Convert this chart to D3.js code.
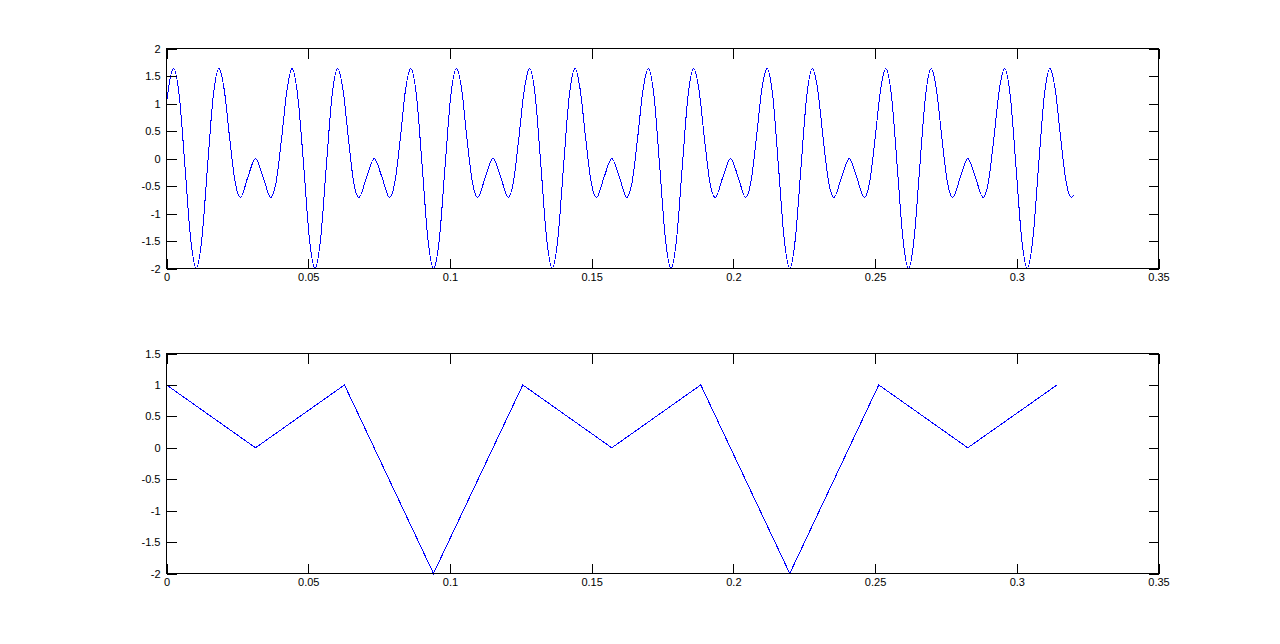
<!DOCTYPE html>
<html>
<head>
<meta charset="utf-8">
<script src="https://cdn.jsdelivr.net/npm/d3@7"></script>
<style>
  html, body { margin: 0; padding: 0; background: #ffffff; }
  svg { display: block; }
  text { font-family: "Liberation Sans", Arial, Helvetica, sans-serif; font-size: 11px; fill: #000; }
</style>
</head>
<body>
<svg id="chart" width="1280" height="644"></svg>
<script>
// ---- Top panel: continuous signal ----
const topTime = [
  0, 0.0006, 0.0025, 0.0045, 0.0065, 0.0085, 0.0105, 0.0125, 0.0145, 0.0165, 0.0185, 0.0204, 0.0223, 0.0242, 0.0261, 0.0287, 0.0314, 0.0341, 0.0368, 0.0387, 0.0406,
  0.0425, 0.0443, 0.0463, 0.0484, 0.0504, 0.0524, 0.0544, 0.0564, 0.0584, 0.0604, 0.0623, 0.0642, 0.0660, 0.0679, 0.0706, 0.0733, 0.0760, 0.0787, 0.0806, 0.0825,
  0.0843, 0.0862, 0.0882, 0.0902, 0.0922, 0.0942, 0.0963, 0.0983, 0.1003, 0.1023, 0.1042, 0.1060, 0.1079, 0.1098, 0.1125, 0.1152, 0.1179, 0.1206, 0.1224, 0.1243,
  0.1262, 0.1281, 0.1301, 0.1321, 0.1341, 0.1361, 0.1381, 0.1401, 0.1421, 0.1442, 0.1460, 0.1479, 0.1498, 0.1517, 0.1544, 0.1571, 0.1598, 0.1624, 0.1643, 0.1662,
  0.1681, 0.1700, 0.1720, 0.1740, 0.1760, 0.1780, 0.1800, 0.1820, 0.1840, 0.1860, 0.1879, 0.1898, 0.1917, 0.1936, 0.1963, 0.1990, 0.2017, 0.2043, 0.2062, 0.2081,
  0.2100, 0.2119, 0.2139, 0.2159, 0.2179, 0.2199, 0.2219, 0.2239, 0.2259, 0.2279, 0.2298, 0.2317, 0.2336, 0.2355, 0.2382, 0.2409, 0.2435, 0.2462, 0.2481, 0.2500,
  0.2519, 0.2538, 0.2558, 0.2578, 0.2598, 0.2618, 0.2638, 0.2658, 0.2678, 0.2698, 0.2717, 0.2736, 0.2755, 0.2774, 0.2801, 0.2827, 0.2854, 0.2881, 0.2900, 0.2919,
  0.2938, 0.2957, 0.2977, 0.2997, 0.3017, 0.3037, 0.3057, 0.3077, 0.3097, 0.3117, 0.3136, 0.3155, 0.3174, 0.3193, 0.3200
];
const topValue = [
  1.000, 1.238, 1.634, 1.136, -0.131, -1.445, -2.000, -1.445, -0.131, 1.136, 1.634, 1.238, 0.361, -0.423, -0.708, -0.338, 0.000, -0.338, -0.708, -0.423, 0.361,
  1.238, 1.634, 1.136, -0.131, -1.445, -2.000, -1.445, -0.131, 1.136, 1.634, 1.238, 0.361, -0.423, -0.708, -0.338, 0.000, -0.338, -0.708, -0.423, 0.361,
  1.238, 1.634, 1.136, -0.131, -1.445, -2.000, -1.445, -0.131, 1.136, 1.634, 1.238, 0.361, -0.423, -0.708, -0.338, 0.000, -0.338, -0.708, -0.423, 0.361,
  1.238, 1.634, 1.136, -0.131, -1.445, -2.000, -1.445, -0.131, 1.136, 1.634, 1.238, 0.361, -0.423, -0.708, -0.338, 0.000, -0.338, -0.708, -0.423, 0.361,
  1.238, 1.634, 1.136, -0.131, -1.445, -2.000, -1.445, -0.131, 1.136, 1.634, 1.238, 0.361, -0.423, -0.708, -0.338, 0.000, -0.338, -0.708, -0.423, 0.361,
  1.238, 1.634, 1.136, -0.131, -1.445, -2.000, -1.445, -0.131, 1.136, 1.634, 1.238, 0.361, -0.423, -0.708, -0.338, 0.000, -0.338, -0.708, -0.423, 0.361,
  1.238, 1.634, 1.136, -0.131, -1.445, -2.000, -1.445, -0.131, 1.136, 1.634, 1.238, 0.361, -0.423, -0.708, -0.338, 0.000, -0.338, -0.708, -0.423, 0.361,
  1.238, 1.634, 1.136, -0.131, -1.445, -2.000, -1.445, -0.131, 1.136, 1.634, 1.238, 0.361, -0.423, -0.708, -0.671
];

// ---- Bottom panel: sampled signal ----
const bottomTime  = [0, 0.0314, 0.0628, 0.0942, 0.1257, 0.1571, 0.1885, 0.2199, 0.2513, 0.2827, 0.3142];
const bottomValue = [1, 0, 1, -2, 1, 0, 1, -2, 1, 0, 1];

// ---- Tick values ----
const xTicks = [0, 0.05, 0.1, 0.15, 0.2, 0.25, 0.3, 0.35];
const topYTicks = [-2, -1.5, -1, -0.5, 0, 0.5, 1, 1.5, 2];
const bottomYTicks = [-2, -1.5, -1, -0.5, 0, 0.5, 1, 1.5];

const svg = d3.select("#chart");

function panel(cfg) {
  const x = d3.scaleLinear().domain([0, 0.35]).range([cfg.left + 0.5, cfg.right + 0.5]);
  const y = d3.scaleLinear().domain(cfg.yDomain).range([cfg.bottom + 0.5, cfg.top + 0.5]);
  const g = svg.append("g");
  const fmt = d => String(+d.toFixed(2));

  // data line
  const pts = cfg.xs.map((t, i) => [t, cfg.ys[i]]);
  g.append("path")
    .datum(pts)
    .attr("fill", "none")
    .attr("stroke", "#0000ff")
    .attr("stroke-width", 1)
    .attr("shape-rendering", "crispEdges")
    .attr("d", d3.line().x(d => x(d[0])).y(d => y(d[1])).curve(cfg.curve));

  const styleAxis = sel => {
    sel.select(".domain").remove();
    sel.selectAll(".tick line").attr("stroke", "#000").attr("shape-rendering", "crispEdges");
    sel.selectAll("text").attr("font-family", null).attr("font-size", null).attr("fill", "#000");
  };

  g.append("g").attr("transform", `translate(0,${y.range()[0]})`)
    .call(d3.axisBottom(x).tickValues(xTicks).tickSize(-10).tickPadding(5).tickFormat(fmt))
    .call(styleAxis);
  g.append("g").attr("transform", `translate(0,${y.range()[1]})`)
    .call(d3.axisTop(x).tickValues(xTicks).tickSize(-10).tickFormat(""))
    .call(styleAxis);
  g.append("g").attr("transform", `translate(${x.range()[0]},0)`)
    .call(d3.axisLeft(y).tickValues(cfg.yTicks).tickSize(-10).tickPadding(6).tickFormat(fmt))
    .call(styleAxis);
  g.append("g").attr("transform", `translate(${x.range()[1]},0)`)
    .call(d3.axisRight(y).tickValues(cfg.yTicks).tickSize(-10).tickFormat(""))
    .call(styleAxis);

  // box
  g.append("rect")
    .attr("x", x.range()[0]).attr("y", y.range()[1])
    .attr("width", x.range()[1] - x.range()[0])
    .attr("height", y.range()[0] - y.range()[1])
    .attr("fill", "none").attr("stroke", "#000").attr("stroke-width", 1)
    .attr("shape-rendering", "crispEdges");
}

panel({ left: 166, right: 1158, top: 48, bottom: 268, yDomain: [-2, 2], yTicks: topYTicks,
        xs: topTime, ys: topValue, curve: d3.curveMonotoneX });
panel({ left: 166, right: 1158, top: 353, bottom: 573, yDomain: [-2, 1.5], yTicks: bottomYTicks,
        xs: bottomTime, ys: bottomValue, curve: d3.curveLinear });
</script>
</body>
</html>
